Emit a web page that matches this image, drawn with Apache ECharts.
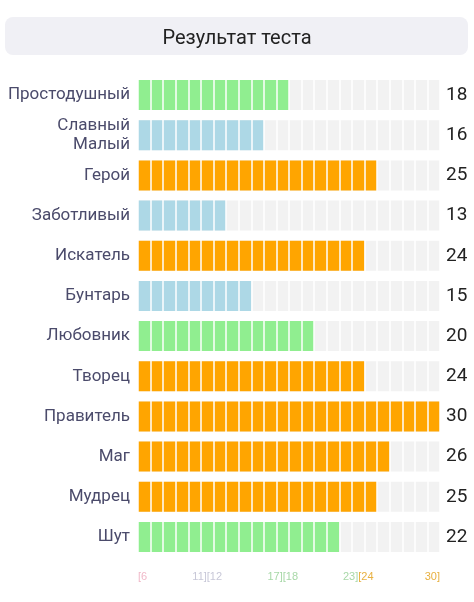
<!DOCTYPE html>
<html><head><meta charset="utf-8">
<script src="https://cdn.jsdelivr.net/npm/echarts@6/dist/echarts.min.js"></script>
<style>html,body{margin:0;background:#fff}#c{width:474px;height:602px}</style>
</head><body><div id="c"></div>
<script>
const categories = ["Простодушный", "Славный\nМалый", "Герой", "Заботливый", "Искатель", "Бунтарь", "Любовник", "Творец", "Правитель", "Маг", "Мудрец", "Шут"];
const values = [18, 16, 25, 13, 24, 15, 20, 24, 30, 26, 25, 22];
const rangeTicks = { 6: "{p|[6}", 11.5: "{b|11][12}", 17.5: "{g|17][18}", 23.5: "{g|23]}{o|[24}", 30: "{o|30]}" };

function colorFor(v) {
  if (v >= 24) return "#ffa500";
  if (v >= 18) return "#90ee90";
  if (v >= 12) return "#add8e6";
  return "#f4b6c2";
}

const chart = echarts.init(document.getElementById("c"));
chart.setOption({
  animation: false,
  graphic: [{ type: "rect", left: 5, top: 17, shape: { width: 463, height: 38, r: 8 }, style: { fill: "#f0f0f5" } }],
  title: { text: "Результат теста", left: "center", top: 24,
    textStyle: { fontFamily: "Roboto", fontWeight: "normal", fontSize: 20, color: "#222" } },
  grid: { left: 138, right: 34, top: 75, bottom: 45 },
  xAxis: [{
    type: "value", min: 6, max: 30, interval: 1, z: 5,
    axisLabel: { show: false }, axisLine: { show: false }, axisTick: { show: false },
    splitLine: { show: true, lineStyle: { color: "#fff", width: 1.5 } }
  }, {
    type: "value", min: 6, max: 30, interval: 0.5, position: "bottom",
    axisLine: { show: false }, axisTick: { show: false }, splitLine: { show: false },
    axisLabel: {
      showMinLabel: true, showMaxLabel: true, alignMinLabel: "left", alignMaxLabel: "right", margin: 14,
      formatter: v => rangeTicks[v] || "",
      rich: {
        p: { color: "#f0b8c8", fontSize: 11 }, b: { color: "#c8c8d8", fontSize: 11 },
        g: { color: "#a8d8a8", fontSize: 11 }, o: { color: "#e8b040", fontSize: 11 }
      }
    }
  }],
  yAxis: [{
    type: "category", inverse: true, data: categories,
    axisLine: { show: false }, axisTick: { show: false },
    axisLabel: { color: "#4b4b6b", fontSize: 17, lineHeight: 19, fontFamily: "Roboto", margin: 8 }
  }, {
    type: "category", inverse: true, position: "right", data: values.map(String),
    axisLine: { show: false }, axisTick: { show: false },
    axisLabel: { color: "#222", fontSize: 19, fontFamily: "Roboto", margin: 6 }
  }],
  series: [{
    type: "bar", barWidth: 30, xAxisIndex: 0, yAxisIndex: 0,
    showBackground: true, backgroundStyle: { color: "#f2f2f2" },
    data: values.map(v => ({ value: v, itemStyle: { color: colorFor(v) } }))
  }]
});
</script></body></html>
